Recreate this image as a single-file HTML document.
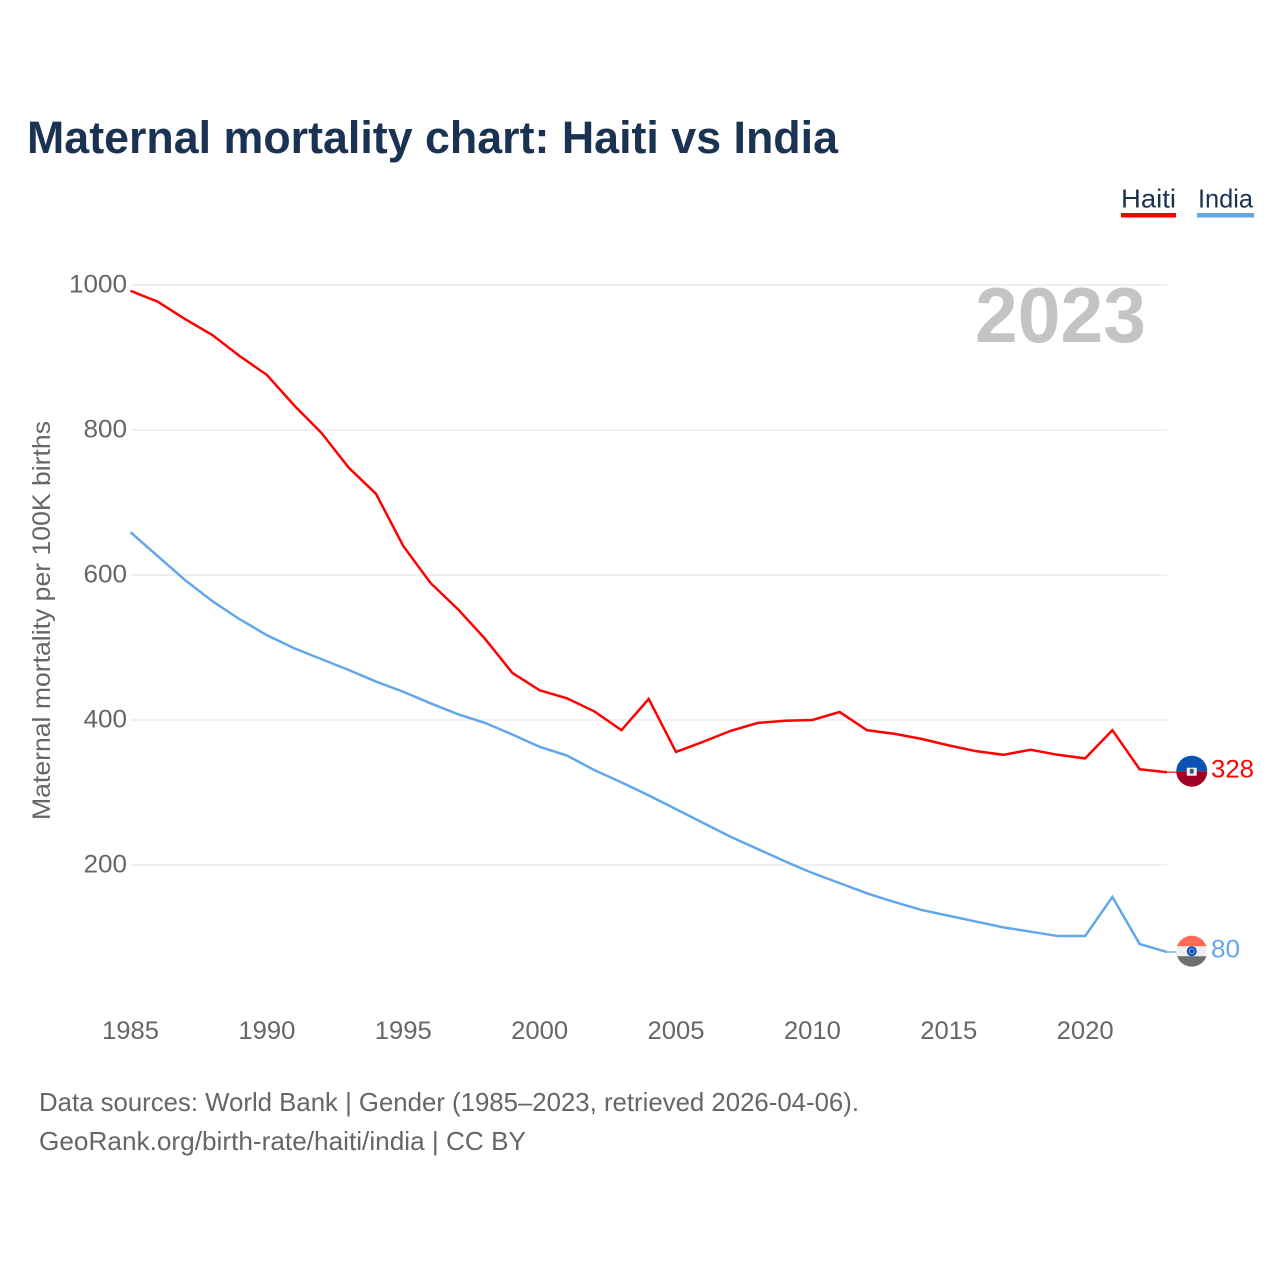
<!DOCTYPE html>
<html lang="en">
<head>
<meta charset="utf-8">
<title>Maternal mortality chart: Haiti vs India</title>
<style>
html,body{margin:0;padding:0;background:#fff;}
svg{display:block;}
text{font-family:"Liberation Sans",sans-serif;}
</style>
</head>
<body>
<svg id="chart" xmlns="http://www.w3.org/2000/svg" width="1280" height="1280" viewBox="0 0 1280 1280">
  <rect width="1280" height="1280" fill="#ffffff"/>
  <text x="27" y="153" font-size="45" font-weight="700" fill="#1a3352" textLength="811" lengthAdjust="spacingAndGlyphs">Maternal mortality chart: Haiti vs India</text>

  <g>
    <text x="1121" y="207.5" font-size="26" fill="#1a3352" textLength="55" lengthAdjust="spacingAndGlyphs">Haiti</text>
    <rect x="1121" y="213" width="55" height="4.5" fill="#ff0000"/>
  </g>
  <g>
    <text x="1198" y="207.5" font-size="26" fill="#1a3352" textLength="55" lengthAdjust="spacingAndGlyphs">India</text>
    <rect x="1197" y="213" width="57" height="4.5" fill="#63a6ea"/>
  </g>

  <g id="grid"></g>
  <g id="yticks"></g>
  <g id="xticks"></g>

  <text transform="translate(50,820) rotate(-90)" font-size="25" fill="#666666" textLength="399" lengthAdjust="spacingAndGlyphs">Maternal mortality per 100K births</text>
  <text x="975" y="342" font-size="78" font-weight="700" fill="#c4c4c4" textLength="171" lengthAdjust="spacingAndGlyphs">2023</text>

  <g id="series"></g>
  <g id="endmarks"></g>

  <text x="39" y="1111" font-size="26" fill="#666666" textLength="820" lengthAdjust="spacingAndGlyphs">Data sources: World Bank | Gender (1985–2023, retrieved 2026-04-06).</text>
  <text x="39" y="1150" font-size="26" fill="#666666" textLength="487" lengthAdjust="spacingAndGlyphs">GeoRank.org/birth-rate/haiti/india | CC BY</text>
</svg>
<script>
const years = [1985,1986,1987,1988,1989,1990,1991,1992,1993,1994,1995,1996,1997,1998,1999,2000,2001,2002,2003,2004,2005,2006,2007,2008,2009,2010,2011,2012,2013,2014,2015,2016,2017,2018,2019,2020,2021,2022,2023];
const haitiValues = [992,977,953,931,902,876,834,796,748,712,640,589,553,512,465,441,430,412,386,429,356,370,385,396,399,400,411,386,381,374,365,357,352,359,352,347,386,332,328];
const indiaValues = [659,626,593,564,539,517,499,484,469,453,439,423,408,396,380,363,351,331,314,296,277,258,239,222,205,189,175,161,149,138,130,122,114,108,102,102,156,91,80];
const yTickValues = [200,400,600,800,1000];
const xTickValues = [1985,1990,1995,2000,2005,2010,2015,2020];

const NS = 'http://www.w3.org/2000/svg';
const xScale = function (year) { return 130.5 + (year - 1985) * 27.275; };
const yScale = function (value) { return 1010 - value * 0.725; };

function make(tag, attrs, parent, content) {
  const el = document.createElementNS(NS, tag);
  Object.keys(attrs).forEach(function (k) { el.setAttribute(k, attrs[k]); });
  if (content !== undefined) el.textContent = content;
  parent.appendChild(el);
  return el;
}

const gridGroup = document.getElementById('grid');
const yTickGroup = document.getElementById('yticks');
const xTickGroup = document.getElementById('xticks');
const seriesGroup = document.getElementById('series');
const endGroup = document.getElementById('endmarks');

yTickValues.forEach(function (v) {
  const line = make('line', {x1: 131, x2: 1167, y1: yScale(v), y2: yScale(v), stroke: '#f0f0f0', 'stroke-width': 2}, gridGroup);
  
  
  const label = make('text', {x: 127, y: yScale(v) + 7.5, 'text-anchor': 'end', 'font-size': 25, fill: '#666666', textLength: String(v).length * 14.5, lengthAdjust: 'spacingAndGlyphs'}, yTickGroup, String(v));
  
  
});

xTickValues.forEach(function (y) {
  const label = make('text', {x: xScale(y), y: 1039, 'text-anchor': 'middle', 'font-size': 25, fill: '#666666', textLength: 57, lengthAdjust: 'spacingAndGlyphs'}, xTickGroup, String(y));
  
  
});

function pathFor(values) {
  return values.map(function (v, i) {
    return (i ? 'L' : 'M') + xScale(years[i]).toFixed(2) + ' ' + yScale(v).toFixed(2);
  }).join(' ');
}

const indiaLine = make('path', {d: pathFor(indiaValues), fill: 'none', stroke: '#63a6ea', 'stroke-width': 2.5, 'stroke-linejoin': 'miter'}, seriesGroup);



const haitiLine = make('path', {d: pathFor(haitiValues), fill: 'none', stroke: '#ff0000', 'stroke-width': 2.5, 'stroke-linejoin': 'miter'}, seriesGroup);



const lastIndex = years.length - 1;
const endX = xScale(years[lastIndex]);
const flagX = endX + 24.8;

/* Haiti end marker */
const haitiLineY = yScale(haitiValues[lastIndex]);
const haitiY = haitiLineY - 1;
const haitiConn = make('line', {x1: endX, x2: flagX, y1: haitiLineY, y2: haitiLineY, stroke: '#ff0000', 'stroke-width': 1.2}, endGroup);


const haitiFlag = make('g', {transform: 'translate(' + flagX + ',' + haitiY + ')'}, endGroup);


make('path', {d: 'M-15.5 0A15.5 15.5 0 0 1 15.5 0Z', fill: '#0a52b3'}, haitiFlag);
make('path', {d: 'M-15.5 0A15.5 15.5 0 0 0 15.5 0Z', fill: '#a00024'}, haitiFlag);
make('rect', {x: -5, y: -3.5, width: 10, height: 8, fill: '#f2f2f2'}, haitiFlag);
make('rect', {x: -2, y: -2.5, width: 4, height: 5, rx: 1.5, fill: '#3a5a8c'}, haitiFlag);
const haitiLabel = make('text', {x: 1211, y: haitiLineY + 5.5, 'font-size': 25, fill: '#ff0000', textLength: 43, lengthAdjust: 'spacingAndGlyphs'}, endGroup, String(haitiValues[lastIndex]));



/* India end marker */
const indiaLineY = yScale(indiaValues[lastIndex]);
const indiaY = indiaLineY - 0.8;
const indiaConn = make('line', {x1: endX, x2: flagX, y1: indiaLineY, y2: indiaLineY, stroke: '#63a6ea', 'stroke-width': 1.2}, endGroup);


const indiaFlag = make('g', {transform: 'translate(' + flagX + ',' + indiaY + ')'}, endGroup);


make('circle', {r: 15.5, fill: '#f0f0f0'}, indiaFlag);
make('path', {d: 'M-14.66 -5A15.5 15.5 0 0 1 14.66 -5Z', fill: '#ff6b57'}, indiaFlag);
make('path', {d: 'M-14.66 5A15.5 15.5 0 0 0 14.66 5Z', fill: '#6f6f6f'}, indiaFlag);
make('circle', {r: 5, fill: '#0a52b3'}, indiaFlag);
make('circle', {r: 2.6, fill: 'none', stroke: '#9fc0ea', 'stroke-width': 0.8}, indiaFlag);
const indiaLabel = make('text', {x: 1211, y: indiaLineY + 5.5, 'font-size': 25, fill: '#63a6ea', textLength: 29, lengthAdjust: 'spacingAndGlyphs'}, endGroup, String(indiaValues[lastIndex]));


</script>
</body>
</html>
